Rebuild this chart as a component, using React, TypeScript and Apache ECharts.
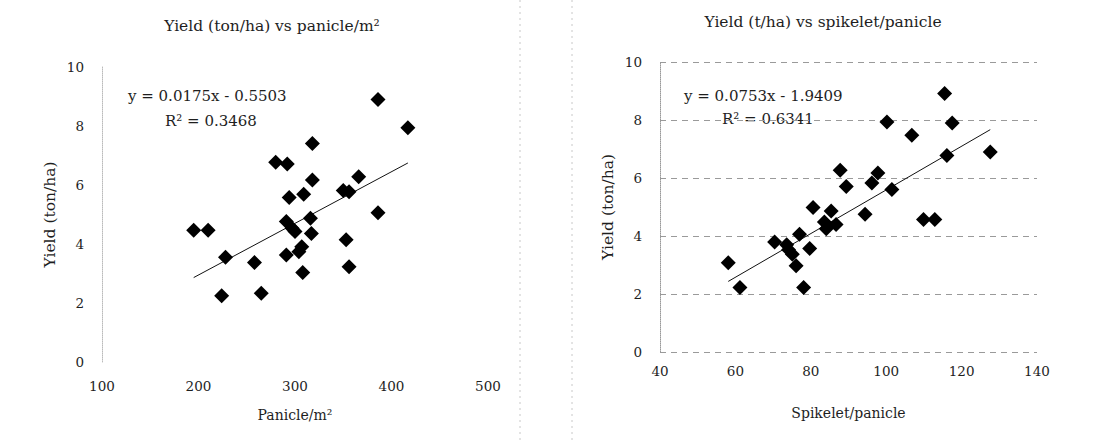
import React, { useEffect, useRef } from "react";
import * as echarts from "echarts";

const panicleX = [386, 417, 318, 280, 292, 318, 366, 350, 356, 309, 294, 386, 291, 316, 297, 300, 317, 195, 210, 353, 307, 304, 291, 228, 258, 356, 308, 224, 265];
const panicleYield = [8.9, 7.94, 7.41, 6.77, 6.71, 6.17, 6.28, 5.81, 5.77, 5.69, 5.58, 5.06, 4.76, 4.87, 4.53, 4.42, 4.36, 4.47, 4.47, 4.14, 3.91, 3.74, 3.63, 3.55, 3.37, 3.23, 3.03, 2.25, 2.33];

const spikeletX = [115.5, 100.2, 117.5, 106.8, 127.6, 116.1, 87.8, 97.8, 96.2, 89.4, 101.5, 80.6, 85.4, 94.4, 109.9, 112.9, 83.6, 86.7, 84.1, 77, 70.4, 73.6, 74.1, 75.1, 79.7, 76.1, 58.1, 61.2, 78.1];
const spikeletYield = [8.91, 7.93, 7.9, 7.47, 6.9, 6.78, 6.27, 6.17, 5.83, 5.71, 5.6, 4.98, 4.86, 4.75, 4.57, 4.57, 4.48, 4.4, 4.25, 4.06, 3.79, 3.7, 3.53, 3.37, 3.57, 2.97, 3.08, 2.22, 2.22];

const leftTrend = { slope: 0.0175, intercept: -0.5503, r2: "0.3468" };
const rightTrend = { slope: 0.0753, intercept: -1.9409, r2: "0.6341" };

const leftXTicks = [100, 500, 100];
const rightXTicks = [40, 140, 20];
const yTicks = [0, 10, 2];

const FONT = "'DejaVu Serif', 'Liberation Serif', serif";
const TXT = "#1e1e1e";

function trendLine(xs: number[], t: { slope: number; intercept: number }) {
  const lo = Math.min(...xs);
  const hi = Math.max(...xs);
  return [
    [lo, t.slope * lo + t.intercept],
    [hi, t.slope * hi + t.intercept],
  ];
}

export default function App() {
  const ref = useRef<HTMLDivElement>(null);
  useEffect(() => {
    if (!ref.current) return;
    const chart = echarts.init(ref.current, null, { renderer: "svg" });
    const axisLabel = { fontFamily: FONT, fontSize: 13.5, color: TXT };
    const yNameStyle = { fontFamily: FONT, fontSize: 15.5, color: TXT };
    const xNameStyle = { fontFamily: FONT, fontSize: 14, color: TXT };
    const eqStyle = { font: `15px ${FONT}`, fill: TXT };
    const titleStyle = { fontFamily: FONT, fontSize: 15.5, fontWeight: "normal", color: TXT };
    chart.setOption({
      animation: false,
      backgroundColor: "#ffffff",
      title: [
        {
          text: "Yield (ton/ha) vs panicle/m²",
          left: 267,
          top: 13,
          textAlign: "center",
          textStyle: titleStyle,
        },
        {
          text: "Yield (t/ha) vs spikelet/panicle",
          left: 818,
          top: 9,
          textAlign: "center",
          textStyle: titleStyle,
        },
      ],
      grid: [
        { left: 102, top: 67, width: 386, height: 295 },
        { left: 660, top: 62, width: 377, height: 290 },
      ],
      xAxis: [
        {
          gridIndex: 0,
          type: "value",
          min: leftXTicks[0],
          max: leftXTicks[1],
          interval: leftXTicks[2],
          name: "Panicle/m²",
          nameLocation: "middle",
          nameGap: 46,
          nameTextStyle: xNameStyle,
          axisLine: { show: false },
          axisTick: { show: false },
          splitLine: { show: false },
          axisLabel: { ...axisLabel, margin: 17 },
        },
        {
          gridIndex: 1,
          type: "value",
          min: rightXTicks[0],
          max: rightXTicks[1],
          interval: rightXTicks[2],
          name: "Spikelet/panicle",
          nameLocation: "middle",
          nameGap: 54,
          nameTextStyle: xNameStyle,
          axisLine: { show: false },
          axisTick: { show: false },
          splitLine: { show: false },
          axisLabel: { ...axisLabel, margin: 12 },
        },
      ],
      yAxis: [
        {
          gridIndex: 0,
          type: "value",
          min: yTicks[0],
          max: yTicks[1],
          interval: yTicks[2],
          name: "Yield (ton/ha)",
          nameLocation: "middle",
          nameGap: 44,
          nameTextStyle: yNameStyle,
          axisLine: { show: true, lineStyle: { color: "#bbbbbb", type: "dotted", width: 1 } },
          axisTick: { show: false },
          splitLine: { show: false },
          axisLabel: { ...axisLabel, margin: 18 },
        },
        {
          gridIndex: 1,
          type: "value",
          min: yTicks[0],
          max: yTicks[1],
          interval: yTicks[2],
          name: "Yield (ton/ha)",
          nameLocation: "middle",
          nameGap: 44,
          nameTextStyle: yNameStyle,
          axisLine: { show: true, lineStyle: { color: "#999999", type: "dotted", width: 1 } },
          axisTick: { show: false },
          splitLine: { show: true, lineStyle: { color: "#9a9a9a", type: [6, 5], width: 1 } },
          axisLabel: { ...axisLabel, margin: 18 },
        },
      ],
      series: [
        {
          type: "scatter",
          xAxisIndex: 0,
          yAxisIndex: 0,
          symbol: "diamond",
          symbolSize: 15,
          itemStyle: { color: "#000000", opacity: 1 },
          data: panicleX.map((x, i) => [x, panicleYield[i]]),
          z: 3,
        },
        {
          type: "line",
          xAxisIndex: 0,
          yAxisIndex: 0,
          symbol: "none",
          lineStyle: { color: "#111111", width: 1 },
          data: trendLine(panicleX, leftTrend),
          z: 2,
        },
        {
          type: "scatter",
          xAxisIndex: 1,
          yAxisIndex: 1,
          symbol: "diamond",
          symbolSize: 15,
          itemStyle: { color: "#000000", opacity: 1 },
          data: spikeletX.map((x, i) => [x, spikeletYield[i]]),
          z: 3,
        },
        {
          type: "line",
          xAxisIndex: 1,
          yAxisIndex: 1,
          symbol: "none",
          lineStyle: { color: "#111111", width: 1 },
          data: trendLine(spikeletX, rightTrend),
          z: 2,
        },
      ],
      graphic: [
        {
          type: "text",
          left: 128,
          top: 88,
          style: {
            text: `y = ${leftTrend.slope}x - ${Math.abs(leftTrend.intercept)}`,
            ...eqStyle,
          },
        },
        {
          type: "text",
          left: 165,
          top: 113,
          style: { text: `R² = ${leftTrend.r2}`, ...eqStyle },
        },
        {
          type: "text",
          left: 684,
          top: 88,
          style: {
            text: `y = ${rightTrend.slope}x - ${Math.abs(rightTrend.intercept)}`,
            ...eqStyle,
          },
        },
        {
          type: "text",
          left: 722,
          top: 111,
          style: { text: `R² = ${rightTrend.r2}`, ...eqStyle },
        },
        {
          type: "line",
          shape: { x1: 520, y1: 0, x2: 520, y2: 442 },
          style: { stroke: "#c8c8c8", lineWidth: 1, lineDash: [2, 4] },
        },
        {
          type: "line",
          shape: { x1: 572, y1: 0, x2: 572, y2: 442 },
          style: { stroke: "#c8c8c8", lineWidth: 1, lineDash: [2, 4] },
        },
      ],
    });
    return () => chart.dispose();
  }, []);
  return (
    <div
      ref={ref}
      style={{ position: "absolute", left: 0, top: 0, width: 1093, height: 442 }}
    />
  );
}
